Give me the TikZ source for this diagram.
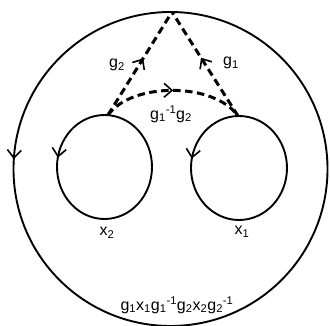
\documentclass[tikz,border=0pt]{standalone}
\usepackage{fontspec}
\setmainfont{Liberation Sans}
\usetikzlibrary{arrows.meta,decorations.markings}
\begin{document}
\begin{tikzpicture}[x=1pt,y=1pt,
  curve/.style={line width=1.9pt},
  dashline/.style={line width=3pt, dash pattern=on 7.5pt off 4.5pt},
  chev/.style={decoration={markings, mark=at position #1 with {\arrow{Straight Barb[length=8pt,width=14pt,line width=1.6pt]}}}, postaction={decorate}},
  lbl/.style={font=\fontsize{16}{18}\selectfont, inner sep=0pt}
]
\useasboundingbox (0,0) rectangle (330,326);
\coordinate (O) at (170.5,157);
\coordinate (C2) at (104.5,159);
\coordinate (C1) at (239,158);
\coordinate (T) at (172,314);
\coordinate (L) at (108,211);
\coordinate (R) at (238,210);
% outer boundary
\draw[curve, chev=0.49] (O) circle[radius=157];
% boundary circles
\draw[curve, chev=0.47] (C2) circle[x radius=47.5, y radius=52];
\draw[curve, chev=0.47] (C1) circle[x radius=48, y radius=52];
% dashed paths
\draw[dashline, chev=0.55] (L) -- (T);
\draw[dashline, chev=0.56] (R) -- (T);
\draw[dashline, chev=0.5] (L) .. controls (132,244) and (214,244) .. (R);
% labels
\node[lbl] (g2) at (117,261) {g\textsubscript{2}};
\node[lbl] (g1) at (231,263) {g\textsubscript{1}};
\node[lbl] (g12) at (171,212) {g\textsubscript{1}\textsuperscript{-1}g\textsubscript{2}};
\node[lbl] (x2) at (107,93) {x\textsubscript{2}};
\node[lbl] (x1) at (242,94) {x\textsubscript{1}};
\node[lbl] (w) at (177,21) {g\textsubscript{1}x\textsubscript{1}g\textsubscript{1}\textsuperscript{-1}g\textsubscript{2}x\textsubscript{2}g\textsubscript{2}\textsuperscript{-1}};
\end{tikzpicture}
\end{document}
